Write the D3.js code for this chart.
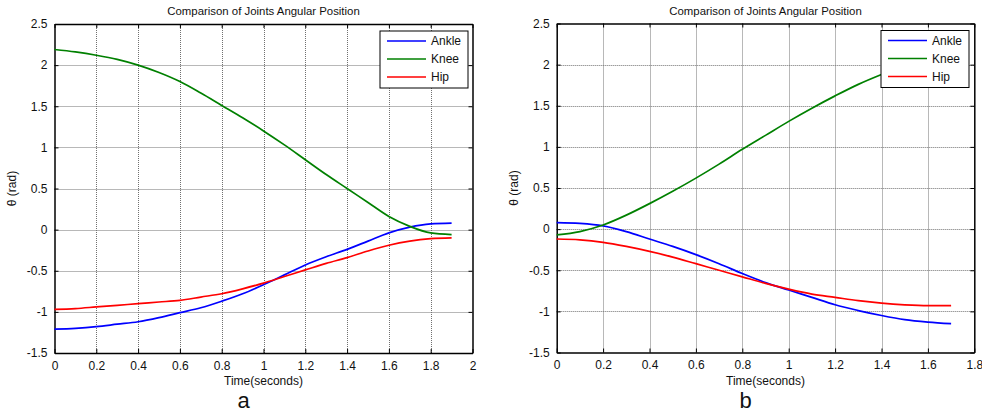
<!DOCTYPE html>
<html>
<head>
<meta charset="utf-8">
<script src="https://cdn.jsdelivr.net/npm/d3@7"></script>
<style>
  body { margin: 0; background: #fff; }
  svg { display: block; font-family: "Liberation Sans", Arial, sans-serif; }
</style>
</head>
<body>
<svg id="chart" width="982" height="414"></svg>
<script>
// plot (a)
const timeA = [0, 0.1, 0.2, 0.3, 0.4, 0.5, 0.6, 0.7, 0.8, 0.9, 1.0, 1.1, 1.2, 1.3, 1.4, 1.5, 1.6, 1.7, 1.8, 1.9];
const ankleA = [-1.21, -1.20, -1.18, -1.15, -1.12, -1.07, -1.01, -0.95, -0.87, -0.78, -0.67, -0.55, -0.43, -0.33, -0.24, -0.14, -0.04, 0.03, 0.07, 0.08];
const kneeA = [2.19, 2.16, 2.12, 2.07, 2.00, 1.91, 1.80, 1.66, 1.51, 1.36, 1.20, 1.03, 0.85, 0.67, 0.50, 0.33, 0.16, 0.04, -0.04, -0.06];
const hipA = [-0.97, -0.96, -0.94, -0.92, -0.90, -0.88, -0.86, -0.82, -0.78, -0.72, -0.65, -0.57, -0.49, -0.41, -0.34, -0.26, -0.19, -0.14, -0.11, -0.10];

// plot (b)
const timeB = [0, 0.1, 0.2, 0.3, 0.4, 0.5, 0.6, 0.7, 0.8, 0.9, 1.0, 1.1, 1.2, 1.3, 1.4, 1.5, 1.6, 1.7];
const ankleB = [0.08, 0.07, 0.04, -0.03, -0.12, -0.21, -0.31, -0.42, -0.54, -0.65, -0.74, -0.83, -0.92, -0.99, -1.05, -1.10, -1.13, -1.15];
const kneeB = [-0.07, -0.03, 0.05, 0.17, 0.31, 0.46, 0.62, 0.79, 0.97, 1.14, 1.31, 1.47, 1.62, 1.76, 1.88, 1.99, 2.08, 2.15];
const hipB = [-0.12, -0.13, -0.16, -0.21, -0.27, -0.34, -0.42, -0.50, -0.58, -0.66, -0.73, -0.79, -0.83, -0.87, -0.90, -0.92, -0.93, -0.93];

const seriesNames = ['Ankle', 'Knee', 'Hip'];
const seriesColors = ['#0000ff', '#008000', '#ff0000'];
const yTicks = [-1.5, -1, -0.5, 0, 0.5, 1, 1.5, 2, 2.5];
const xTicksA = [0, 0.2, 0.4, 0.6, 0.8, 1, 1.2, 1.4, 1.6, 1.8, 2];
const xTicksB = [0, 0.2, 0.4, 0.6, 0.8, 1, 1.2, 1.4, 1.6, 1.8];
const titleText = 'Comparison of Joints Angular Position';

const svg = d3.select('#chart');

function drawPanel(cfg) {
  const { left, right, top, bottom, xMax, xTicks, time, values, letter, legendX } = cfg;
  const g = svg.append('g');

  const x = d3.scaleLinear().domain([0, xMax]).range([left, right]);
  const y = d3.scaleLinear().domain([-1.5, 2.5]).range([bottom, top]);

  // dotted grid
  g.selectAll('line.gx')
    .data(xTicks.slice(1, -1))
    .join('line')
    .attr('x1', d => Math.round(x(d)) + 0.5).attr('x2', d => Math.round(x(d)) + 0.5)
    .attr('y1', top).attr('y2', bottom)
    .attr('stroke', '#707070').attr('stroke-width', 1)
    .attr('stroke-dasharray', '1,1');

  g.selectAll('line.gy')
    .data(yTicks.slice(1, -1))
    .join('line')
    .attr('x1', left).attr('x2', right)
    .attr('y1', d => Math.round(y(d)) + 0.5).attr('y2', d => Math.round(y(d)) + 0.5)
    .attr('stroke', '#707070').attr('stroke-width', 1)
    .attr('stroke-dasharray', '1,1');

  // axes, ticks point inward on all four sides
  const tickFmt = d => String(d);
  g.append('g')
    .attr('transform', `translate(0,${ bottom })`)
    .call(d3.axisBottom(x).tickValues(xTicks).tickFormat(tickFmt).tickSizeInner(-4).tickSizeOuter(0).tickPadding(8));
  g.append('g')
    .attr('transform', `translate(0,${ top })`)
    .call(d3.axisTop(x).tickValues(xTicks).tickFormat('').tickSizeInner(-4).tickSizeOuter(0));
  g.append('g')
    .attr('transform', `translate(${ left },0)`)
    .call(d3.axisLeft(y).tickValues(yTicks).tickFormat(tickFmt).tickSizeInner(-4).tickSizeOuter(0).tickPadding(7));
  g.append('g')
    .attr('transform', `translate(${ right },0)`)
    .call(d3.axisRight(y).tickValues(yTicks).tickFormat('').tickSizeInner(-4).tickSizeOuter(0));

  g.selectAll('.domain').attr('stroke', '#000').attr('stroke-width', 1.5);
  g.selectAll('.tick line').attr('stroke', '#000');
  g.selectAll('.tick text').attr('font-size', 12).attr('fill', '#111')
    .attr('font-family', '"Liberation Sans", Arial, sans-serif');

  const line = d3.line()
    .x((d, i) => x(time[i]))
    .y(d => y(d))
    .curve(d3.curveMonotoneX);

  values.forEach((vals, i) => {
    g.append('path')
      .datum(vals)
      .attr('d', line)
      .attr('fill', 'none')
      .attr('stroke', seriesColors[i])
      .attr('stroke-width', 1.7);
  });

  // legend
  const lg = g.append('g').attr('transform', `translate(${ legendX },${ top + 7 })`);
  lg.append('rect')
    .attr('width', 88).attr('height', 57)
    .attr('fill', '#fff').attr('stroke', '#000').attr('stroke-width', 1);
  seriesNames.forEach((name, i) => {
    const ly = 10 + i * 18;
    lg.append('line')
      .attr('x1', 7).attr('x2', 46)
      .attr('y1', ly).attr('y2', ly)
      .attr('stroke', seriesColors[i]).attr('stroke-width', 1.7);
    lg.append('text')
      .attr('x', 51).attr('y', ly + 4)
      .attr('font-size', 12).attr('fill', '#111')
      .text(name);
  });

  const cx = (left + right) / 2;

  g.append('text')
    .attr('x', cx).attr('y', 15)
    .attr('text-anchor', 'middle')
    .attr('font-size', 11.4).attr('fill', '#111')
    .text(titleText);

  g.append('text')
    .attr('x', cx).attr('y', 385)
    .attr('text-anchor', 'middle')
    .attr('font-size', 12).attr('fill', '#111')
    .text('Time(seconds)');

  g.append('text')
    .attr('transform', `translate(${ left - 39 },${ (top + bottom) / 2 }) rotate(-90)`)
    .attr('text-anchor', 'middle')
    .attr('font-size', 12).attr('fill', '#111')
    .text('θ (rad)');

  g.append('text')
    .attr('x', cx - 20).attr('y', 408)
    .attr('text-anchor', 'middle')
    .attr('font-size', 22).attr('fill', '#111')
    .text(letter);
}

drawPanel({
  left: 54.5, right: 472.5, top: 24, bottom: 353,
  xMax: 2, xTicks: xTicksA, time: timeA,
  values: [ankleA, kneeA, hipA], letter: 'a', legendX: 380
});

drawPanel({
  left: 556.7, right: 974.3, top: 23.5, bottom: 352.5,
  xMax: 1.8, xTicks: xTicksB, time: timeB,
  values: [ankleB, kneeB, hipB], letter: 'b', legendX: 881
});
</script>
</body>
</html>
